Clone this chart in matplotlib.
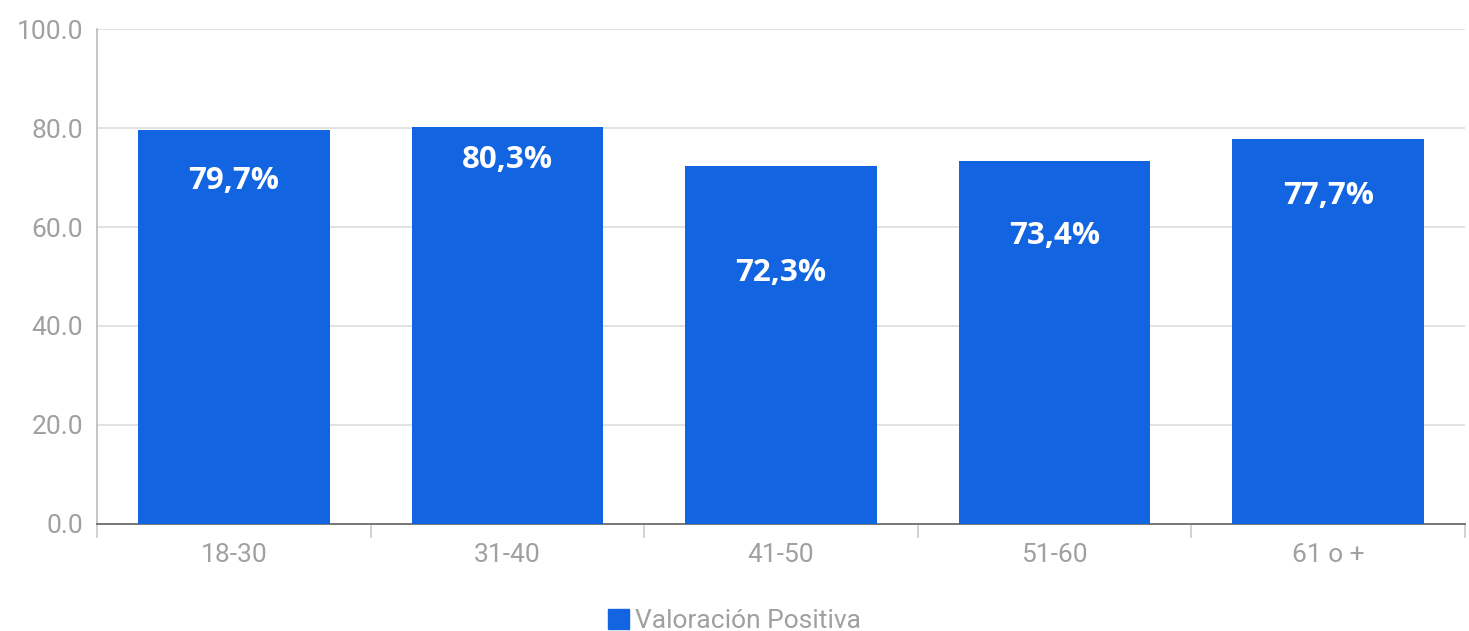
import matplotlib.pyplot as plt
from matplotlib.patches import Patch

# Data
categories = ['18-30', '31-40', '41-50', '51-60', '61 o +']
values = [79.7, 80.3, 72.3, 73.4, 77.7]
labels = ['79,7%', '80,3%', '72,3%', '73,4%', '77,7%']
# vertical placement of the value labels (data units), as in the original
label_y = [69.3, 73.5, 50.7, 58.2, 66.3]

blue = '#1264E0'
grey = '#A0A0A0'

plt.rcParams['font.family'] = ['Roboto', 'DejaVu Sans']

fig = plt.figure(figsize=(14.69, 6.31), dpi=100)
ax = fig.add_axes([0.066, 0.1696, 0.9313, 0.7844])

x = list(range(len(categories)))
ax.bar(x, values, width=0.7, color=blue, zorder=3)

for xi, ly, lab in zip(x, label_y, labels):
    ax.text(xi, ly, lab, ha='center', va='center', color='white',
            fontsize=22.5, fontweight='bold', family=['Open Sans', 'DejaVu Sans'], zorder=4)

ax.set_xlim(-0.5, len(categories) - 0.5)
ax.set_ylim(0, 100)
ax.set_yticks([0, 20, 40, 60, 80, 100])
ax.set_yticklabels(['0.0', '20.0', '40.0', '60.0', '80.0', '100.0'])
ax.yaxis.grid(True, color='#DDDDDD', linewidth=1.2, zorder=0)
ax.tick_params(axis='y', length=0, pad=10, labelsize=19, labelcolor=grey)

# category labels at centres, tick marks at boundaries
ax.set_xticks(x)
ax.set_xticklabels(categories)
ax.tick_params(axis='x', which='major', length=0, pad=14, labelsize=19, labelcolor=grey)
ax.set_xticks([i - 0.5 for i in range(len(categories) + 1)], minor=True)
ax.tick_params(axis='x', which='minor', length=10, color='#CCCCCC', width=1.2)

for s in ['top', 'right']:
    ax.spines[s].set_visible(False)
ax.spines['left'].set_color('#BBBBBB')
ax.spines['left'].set_linewidth(1.2)
ax.spines['bottom'].set_color('#777777')
ax.spines['bottom'].set_linewidth(1.4)

handle = Patch(facecolor=blue, edgecolor=blue)
fig.legend([handle], ['Valoración Positiva'], loc='center', bbox_to_anchor=(0.5, 0.016),
           frameon=False, fontsize=19, labelcolor=grey, handlelength=0.8, handleheight=0.8,
           handletextpad=0.2)

plt.savefig('out.png', dpi=100)
